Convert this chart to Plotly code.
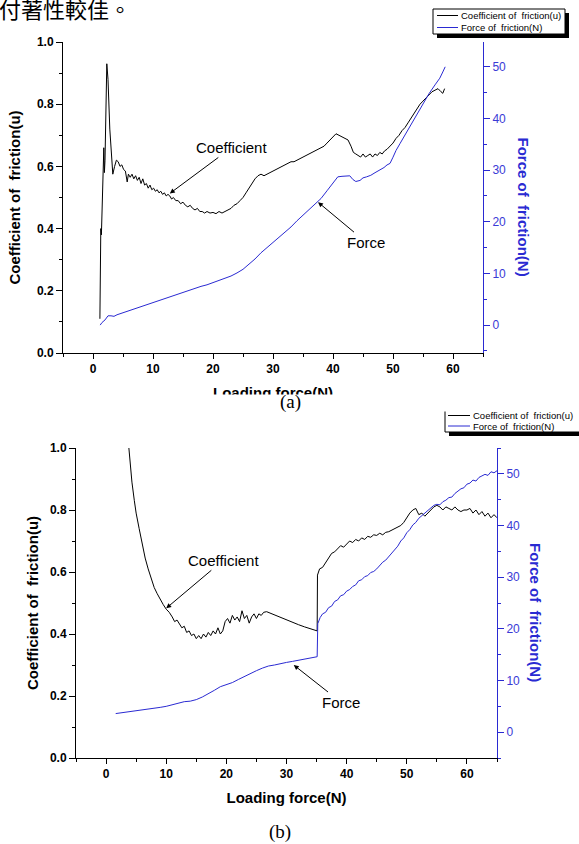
import plotly.graph_objects as go

W, H = 579, 844
SANS = "Liberation Sans, Arial, sans-serif"
SERIF = "Liberation Serif, Times New Roman, serif"
CJK = "Noto Sans CJK TC, Noto Sans CJK SC, sans-serif"
BLUE = "#2a2ad2"
BLUE_TXT = "#3a3ad6"

# ---------------- data: panel (a) ----------------
a_coef_x = [1.15, 1.2, 1.3, 1.4, 1.5, 1.7, 1.8, 1.9, 2.0, 2.3, 2.5, 2.8, 3.1, 3.3, 3.6, 3.9,
            4.2, 4.5, 4.8, 5.1, 5.4, 5.7, 5.9, 6.2, 6.5, 6.8, 7.1, 7.4, 7.7, 8.0, 8.3, 8.6,
            8.9, 9.2, 9.5, 9.8, 10.1, 10.4, 10.7, 11.0, 11.3, 11.6, 11.9, 12.2, 12.5, 12.8,
            13.1, 13.4, 13.8, 14.2, 14.6, 15.0, 15.4, 15.8, 16.2, 16.6, 17.0, 17.4, 17.8,
            18.2, 18.6, 19.0, 19.5, 20.0, 20.5, 21.0, 21.5, 22.0, 22.5, 23.0, 23.5, 24.0,
            24.5, 25.0, 25.5, 26.0, 26.5, 27.0, 27.5, 28.0, 28.5, 29.0, 29.5, 30.0, 30.5,
            31.0, 31.5, 32.0, 32.5, 33.0, 33.5, 34.0, 34.5, 35.0, 35.5, 36.0, 36.5, 37.0,
            37.5, 38.0, 38.5, 39.0, 39.5, 40.0, 40.5, 41.0, 41.5, 42.0, 42.5, 43.0, 43.4,
            43.8, 44.2, 44.6, 45.0, 45.4, 45.8, 46.2, 46.6, 47.0, 47.4, 47.8, 48.2, 48.6,
            49.0, 49.5, 50.0, 50.5, 51.0, 51.5, 52.0, 52.5, 53.0, 53.5, 54.0, 54.5, 55.0,
            55.5, 56.0, 56.5, 57.0, 57.5, 58.0, 58.3, 58.6]
a_coef_u = [0.11, 0.35, 0.40, 0.38, 0.45, 0.60, 0.66, 0.58, 0.62, 0.93, 0.88, 0.72, 0.62, 0.575, 0.60, 0.62,
            0.615, 0.60, 0.605, 0.59, 0.585, 0.55, 0.575, 0.565, 0.575, 0.56, 0.57, 0.555, 0.565, 0.545, 0.56, 0.54,
            0.545, 0.53, 0.54, 0.525, 0.53, 0.52, 0.525, 0.515, 0.52, 0.51, 0.515, 0.505, 0.51, 0.505,
            0.495, 0.50, 0.49, 0.49, 0.48, 0.485, 0.475, 0.47, 0.475, 0.465, 0.46, 0.465, 0.455,
            0.455, 0.45, 0.455, 0.45, 0.452, 0.448, 0.455, 0.45, 0.455, 0.46, 0.465, 0.475, 0.48,
            0.49, 0.50, 0.515, 0.53, 0.545, 0.56, 0.57, 0.575, 0.57, 0.575, 0.58, 0.585, 0.59,
            0.595, 0.60, 0.605, 0.61, 0.615, 0.615, 0.62, 0.625, 0.63, 0.635, 0.64, 0.645, 0.65,
            0.655, 0.66, 0.665, 0.675, 0.685, 0.695, 0.705, 0.70, 0.695, 0.69, 0.685, 0.665, 0.645,
            0.64, 0.635, 0.63, 0.64, 0.63, 0.635, 0.64, 0.63, 0.64, 0.635, 0.645, 0.64, 0.65,
            0.655, 0.665, 0.675, 0.69, 0.70, 0.715, 0.725, 0.74, 0.755, 0.77, 0.785, 0.80, 0.81,
            0.82, 0.83, 0.84, 0.845, 0.85, 0.84, 0.835, 0.85]

a_force_x = [1.2, 1.5, 2.0, 2.5, 3.0, 3.5, 4.0, 5.0, 6.0, 7.0, 8.0, 9.0, 10.0, 11.0, 12.0, 13.0,
             14.0, 15.0, 16.0, 17.0, 18.0, 19.0, 20.0, 21.0, 22.0, 23.0, 24.0, 25.0, 26.0, 27.0,
             28.0, 29.0, 30.0, 31.0, 32.0, 33.0, 34.0, 35.0, 36.0, 37.0, 38.0, 39.0, 40.0, 40.8,
             41.5, 42.3, 42.8, 43.3, 43.8, 44.5, 45.0, 45.6, 46.3, 47.0, 47.8, 48.5, 49.0, 49.5,
             50.0, 50.5, 51.2, 52.0, 52.7, 53.4, 54.2, 55.0, 56.0, 57.0, 57.8, 58.3, 58.7]
a_force_n = [0.0, 0.5, 1.0, 1.8, 1.8, 1.7, 2.0, 2.4, 2.8, 3.2, 3.6, 4.0, 4.4, 4.8, 5.1, 5.5,
             5.9, 6.3, 6.7, 7.1, 7.5, 7.8, 8.2, 8.6, 9.0, 9.5, 10.1, 10.8, 11.8, 12.8,
             14.0, 15.0, 16.0, 17.0, 18.0, 19.0, 20.2, 21.3, 22.4, 23.4, 24.5, 26.0, 27.5, 28.7,
             28.8, 28.9, 28.9, 28.2, 27.8, 28.0, 28.5, 28.7, 29.0, 29.5, 30.0, 30.5, 31.0, 31.3,
             32.5, 33.8, 35.2, 36.8, 38.2, 39.7, 41.3, 43.0, 44.8, 46.5, 47.8, 49.0, 50.0]

# ---------------- data: panel (b) ----------------
b_coef_x = [3.7, 4.0, 4.3, 4.7, 5.0, 5.5, 6.0, 6.5, 7.0, 7.5, 8.0, 8.5, 9.0, 9.5, 10.0, 10.5,
            11.0, 11.4, 11.8, 12.2, 12.6, 13.0, 13.4, 13.8, 14.2, 14.6, 15.0, 15.4, 15.8, 16.2,
            16.6, 17.0, 17.4, 17.8, 18.2, 18.6, 19.0, 19.4, 19.8, 20.2, 20.6, 21.0, 21.4, 21.8,
            22.2, 22.6, 23.0, 23.4, 23.8, 24.2, 24.6, 25.0, 25.4, 25.8, 26.2, 26.7, 27.2, 28.0,
            29.0, 30.0, 31.0, 32.0, 33.0, 34.0, 35.1, 35.15, 35.5, 36.0, 36.5, 37.0, 37.5, 38.0,
            38.5, 39.0, 39.5, 40.0, 40.5, 41.0, 41.5, 42.0, 42.5, 43.0, 43.5, 44.0, 44.5, 45.0,
            45.5, 46.0, 46.5, 47.0, 47.5, 48.0, 48.5, 49.0, 49.5, 50.0, 50.5, 51.0, 51.5, 52.0,
            52.5, 53.0, 53.5, 54.0, 54.5, 55.0, 55.5, 56.0, 56.5, 57.0, 57.5, 58.0, 58.5, 59.0,
            59.5, 60.0, 60.5, 61.0, 61.5, 62.0, 62.5, 63.0, 63.5, 64.0, 64.5, 65.0]
b_coef_u = [1.02, 0.95, 0.89, 0.83, 0.79, 0.74, 0.69, 0.645, 0.61, 0.58, 0.55, 0.53, 0.51, 0.495, 0.48, 0.47,
            0.455, 0.44, 0.445, 0.43, 0.42, 0.425, 0.405, 0.41, 0.395, 0.40, 0.385, 0.395, 0.385, 0.40,
            0.39, 0.405, 0.395, 0.41, 0.40, 0.42, 0.40, 0.41, 0.44, 0.45, 0.435, 0.46, 0.445, 0.455,
            0.44, 0.475, 0.45, 0.46, 0.435, 0.455, 0.465, 0.45, 0.465, 0.46, 0.47, 0.472, 0.468, 0.46,
            0.452, 0.445, 0.437, 0.43, 0.423, 0.417, 0.41, 0.59, 0.61, 0.615, 0.63, 0.645, 0.66, 0.665,
            0.675, 0.685, 0.68, 0.69, 0.70, 0.695, 0.705, 0.70, 0.71, 0.705, 0.715, 0.712, 0.72, 0.718,
            0.725, 0.72, 0.728, 0.73, 0.735, 0.74, 0.745, 0.75, 0.76, 0.775, 0.79, 0.80, 0.805, 0.785,
            0.79, 0.78, 0.79, 0.80, 0.81, 0.815, 0.81, 0.80, 0.81, 0.805, 0.80, 0.81, 0.80, 0.795,
            0.80, 0.80, 0.805, 0.79, 0.80, 0.785, 0.795, 0.78, 0.79, 0.775, 0.785, 0.775]

b_force_x = [1.6, 3.0, 5.0, 7.0, 9.0, 10.0, 11.0, 12.0, 13.0, 14.0, 15.0, 16.0, 17.0, 18.0, 19.0,
             20.0, 21.0, 22.0, 23.0, 24.0, 25.0, 26.0, 27.0, 28.0, 29.0, 30.0, 31.0, 32.0, 33.0,
             34.0, 35.1, 35.2, 35.6, 36.0, 36.5, 37.0, 37.5, 38.0, 38.5, 39.0, 39.5, 40.0, 40.5,
             41.0, 41.5, 42.0, 42.5, 43.0, 43.5, 44.0, 44.5, 45.0, 45.5, 46.0, 46.5, 47.0, 47.5,
             48.0, 48.5, 49.0, 49.5, 50.0, 50.5, 51.0, 51.5, 52.0, 52.5, 53.0, 53.5, 54.0, 54.5,
             55.0, 55.5, 56.0, 56.5, 57.0, 57.5, 58.0, 58.5, 59.0, 59.5, 60.0, 60.5, 61.0, 61.5,
             62.0, 62.5, 63.0, 63.5, 64.0, 64.5, 65.0]
b_force_n = [3.6, 3.8, 4.1, 4.4, 4.8, 5.0, 5.3, 5.6, 5.9, 6.0, 6.3, 6.8, 7.4, 8.1, 8.8,
             9.2, 9.6, 10.2, 10.8, 11.3, 11.9, 12.4, 12.8, 13.0, 13.3, 13.5, 13.7, 13.9, 14.1,
             14.3, 14.6, 21.0, 22.2, 22.9, 23.2, 24.1, 24.4, 25.3, 25.6, 26.4, 26.6, 27.3, 27.6,
             28.2, 28.5, 29.3, 29.5, 30.1, 30.3, 30.9, 31.1, 31.6, 32.3, 32.9, 33.3, 34.0, 34.6,
             35.4, 36.0, 37.0, 37.6, 38.6, 39.2, 40.1, 40.6, 41.4, 41.9, 42.5, 43.0, 43.4, 43.9,
             44.1, 44.0, 44.6, 44.9, 45.4, 45.5, 46.2, 46.6, 47.1, 47.3, 48.0, 48.2, 48.8, 48.6,
             49.3, 49.6, 49.9, 49.7, 50.4, 50.2, 50.6]

# ---------------- ticks / labels ----------------
x_ticks = [0, 10, 20, 30, 40, 50, 60]
x_ticktext = ["0", "10", "20", "30", "40", "50", "60"]
u_ticks = [0.0, 0.2, 0.4, 0.6, 0.8, 1.0]
u_ticktext = ["0.0", "0.2", "0.4", "0.6", "0.8", "1.0"]
f_ticks = [0, 10, 20, 30, 40, 50]
f_ticktext = ["0", "10", "20", "30", "40", "50"]

coef_name = "Coefficient of\u00a0 friction(u)"
force_name = "Force of\u00a0 friction(N)"
x_title = "Loading force(N)"
heading = "付著性較佳。"


def PX(x):
    return x / W


def PY(y):
    return 1 - y / H


fig = go.Figure()
fig.add_trace(go.Scatter(x=a_coef_x, y=a_coef_u, mode="lines", name=coef_name,
                         line=dict(color="black", width=1), xaxis="x", yaxis="y", showlegend=False))
fig.add_trace(go.Scatter(x=a_force_x, y=a_force_n, mode="lines", name=force_name,
                         line=dict(color=BLUE, width=1), xaxis="x", yaxis="y2", showlegend=False))
fig.add_trace(go.Scatter(x=b_coef_x, y=b_coef_u, mode="lines", name=coef_name,
                         line=dict(color="black", width=1), xaxis="x3", yaxis="y3", showlegend=False))
fig.add_trace(go.Scatter(x=b_force_x, y=b_force_n, mode="lines", name=force_name,
                         line=dict(color=BLUE, width=1), xaxis="x3", yaxis="y4", showlegend=False))

tick_bold = dict(family=SANS, size=12, color="black", weight="bold")
tick_blue = dict(family=SANS, size=12, color=BLUE_TXT)
title_bold = dict(family=SANS, size=15, color="black", weight="bold")


def xaxis_bottom(domain, anchor, standoff):
    return dict(domain=domain, anchor=anchor, range=[-5, 65], tickmode="array", automargin=False,
                tickvals=x_ticks, ticktext=x_ticktext, ticks="outside", ticklen=5,
                tickwidth=1, tickcolor="black", showline=True, linecolor="black",
                linewidth=1, showgrid=False, zeroline=False, tickfont=tick_bold,
                minor=dict(dtick=5, tick0=0, ticks="outside", ticklen=3, tickcolor="black",
                           showgrid=False),
                title=dict(text=x_title, font=title_bold, standoff=standoff))


def xaxis_top(over, anchor):
    return dict(overlaying=over, anchor=anchor, side="top", range=[-5, 65], tickmode="array",
                automargin=False,
                tickvals=x_ticks, ticks="inside", ticklen=5, tickwidth=1, tickcolor="black",
                showticklabels=False, showline=True, linecolor="black", linewidth=1,
                showgrid=False, zeroline=False,
                minor=dict(dtick=5, tick0=0, ticks="inside", ticklen=3, tickcolor="black",
                           showgrid=False))


def yaxis_left(domain, anchor, standoff):
    return dict(domain=domain, anchor=anchor, range=[0, 1], tickmode="array", automargin=False,
                tickvals=u_ticks, ticktext=u_ticktext, ticks="outside", ticklen=6,
                tickwidth=1, tickcolor="black", showline=True, linecolor="black",
                linewidth=1, showgrid=False, zeroline=False, tickfont=tick_bold,
                minor=dict(dtick=0.1, tick0=0, ticks="outside", ticklen=3, tickcolor="black",
                           showgrid=False),
                title=dict(text=coef_name, font=title_bold, standoff=standoff))


def yaxis_right(over, anchor, rng):
    return dict(overlaying=over, anchor=anchor, side="right", range=rng, tickmode="array",
                automargin=False,
                tickvals=f_ticks, ticktext=f_ticktext, ticks="outside", ticklen=6,
                tickwidth=1, tickcolor=BLUE, showline=True, linecolor=BLUE, linewidth=1,
                showgrid=False, zeroline=False, tickfont=tick_blue,
                minor=dict(dtick=5, tick0=0, ticks="outside", ticklen=3, tickcolor=BLUE,
                           showgrid=False))


fig.update_layout(
    width=W, height=H, margin=dict(l=0, r=0, t=0, b=0, autoexpand=False),
    paper_bgcolor="white", plot_bgcolor="white",
    font=dict(family=SANS, color="black"),
    xaxis=xaxis_bottom([PX(63), PX(483)], "y", 12),
    xaxis2=xaxis_top("x", "y"),
    yaxis=yaxis_left([PY(353), PY(42)], "x", 12),
    yaxis2=yaxis_right("y", "x", [-5.4, 54.8]),
    xaxis3=xaxis_bottom([PX(76), PX(497)], "y3", 12),
    xaxis4=xaxis_top("x3", "y3"),
    yaxis3=yaxis_left([PY(758), PY(448)], "x3", 7),
    yaxis4=yaxis_right("y3", "x3", [-5, 55]),
    showlegend=False,
)

shapes = []
annotations = []

# right-axis titles (read top-to-bottom)
for cx, cy in [(523.5, 207), (536, 612)]:
    annotations.append(dict(text=force_name, x=PX(cx), y=PY(cy), xref="paper", yref="paper",
                            showarrow=False, textangle=90, xanchor="center", yanchor="middle",
                            font=dict(family=SANS, size=15, color=BLUE, weight="bold")))

# arrow labels
lab_font = dict(family=SANS, size=15, color="black")
annotations += [
    dict(text="Coefficient", x=12.8, y=0.513, xref="x", yref="y", ax=62, ay=-46,
         showarrow=True, arrowhead=2, arrowsize=1, arrowwidth=1, arrowcolor="black", font=lab_font),
    dict(text="Force", x=37.5, y=23.8, xref="x", yref="y2", ax=48, ay=40,
         showarrow=True, arrowhead=2, arrowsize=1, arrowwidth=1, arrowcolor="black", font=lab_font),
    dict(text="Coefficient", x=10.0, y=0.483, xref="x3", yref="y3", ax=57, ay=-48,
         showarrow=True, arrowhead=2, arrowsize=1, arrowwidth=1, arrowcolor="black", font=lab_font),
    dict(text="Force", x=31.2, y=13.0, xref="x3", yref="y4", ax=47, ay=37,
         showarrow=True, arrowhead=2, arrowsize=1, arrowwidth=1, arrowcolor="black", font=lab_font),
]


# hand-drawn legends with drop shadow
def legend_box(x0, y0, x1, y1, row1, row2, lx0, lx1, tx, off=4):
    shapes.append(dict(type="rect", xref="paper", yref="paper", x0=PX(x0 + off), x1=PX(x1 + off),
                       y0=PY(y0 + off), y1=PY(y1 + off), fillcolor="black", line=dict(width=0)))
    shapes.append(dict(type="rect", xref="paper", yref="paper", x0=PX(x0), x1=PX(x1),
                       y0=PY(y0), y1=PY(y1), fillcolor="white", line=dict(color="black", width=1)))
    for ry, col, txt in [(row1, "black", coef_name), (row2, BLUE, force_name)]:
        shapes.append(dict(type="line", xref="paper", yref="paper", x0=PX(lx0), x1=PX(lx1),
                           y0=PY(ry), y1=PY(ry), line=dict(color=col, width=1)))
        annotations.append(dict(text=txt, x=PX(tx), y=PY(ry), xref="paper", yref="paper",
                                showarrow=False, xanchor="left", yanchor="middle",
                                font=dict(family=SANS, size=9.5, color="black")))


legend_box(433, 9, 565, 34, 15.5, 27.5, 437, 458, 459)
legend_box(445, 410, 590, 432, 415.5, 426, 448, 470, 471)

# heading text (cut at top) and captions
annotations.append(dict(text=heading, x=PX(-3), y=PY(8), xref="paper", yref="paper",
                        showarrow=False, xanchor="left", yanchor="middle",
                        font=dict(family=CJK, size=22, color="black")))
annotations.append(dict(text=" ", x=0.5, y=PY(403), xref="paper", yref="paper", showarrow=False,
                        width=W, height=14, bgcolor="white", xanchor="center", yanchor="middle"))
annotations.append(dict(text="(a)", x=PX(290), y=PY(402), xref="paper", yref="paper",
                        showarrow=False, xanchor="center", yanchor="middle",
                        font=dict(family=SERIF, size=19, color="black")))
annotations.append(dict(text="(b)", x=PX(280), y=PY(832), xref="paper", yref="paper",
                        showarrow=False, xanchor="center", yanchor="middle",
                        font=dict(family=SERIF, size=19, color="black")))

fig.update_layout(shapes=shapes, annotations=annotations)
fig.write_html("out.html", config={"displayModeBar": False},
               post_script="document.body.style.margin='0';")
